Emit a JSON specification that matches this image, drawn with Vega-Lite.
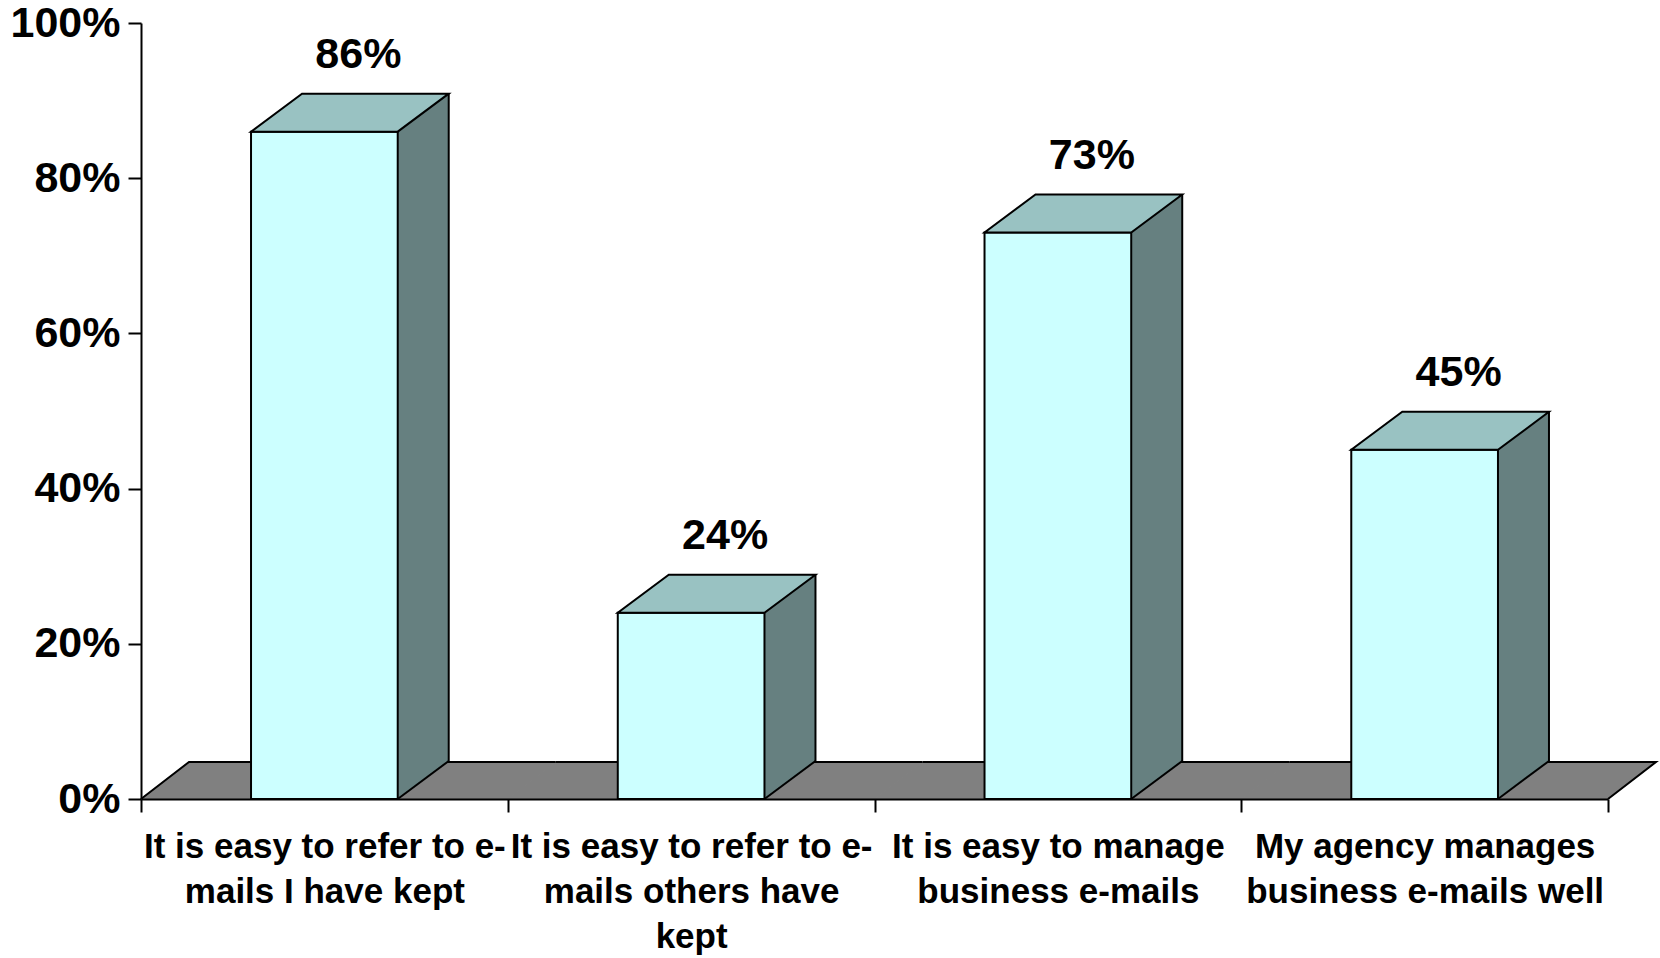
{
  "$schema": "https://vega.github.io/schema/vega-lite/v6.json",
  "width": 1467,
  "height": 776,
  "autosize": {"type": "none"},
  "padding": {"left": 141, "top": 23, "right": 52, "bottom": 159},
  "background": "white",
  "config": {"view": {"stroke": null}, "font": "Liberation Sans"},
  "data": {
    "values": [
      {"statement": "It is easy to refer to e-mails I have kept", "share": 0.86},
      {"statement": "It is easy to refer to e-mails others have kept", "share": 0.24},
      {"statement": "It is easy to manage business e-mails", "share": 0.73},
      {"statement": "My agency manages business e-mails well", "share": 0.45}
    ]
  },
  "encoding": {
    "x": {
      "field": "statement",
      "type": "nominal",
      "sort": null,
      "scale": {"paddingInner": 0, "paddingOuter": 0},
      "axis": {
        "title": null,
        "labelAngle": 0,
        "tickBand": "extent",
        "tickSize": 13,
        "tickWidth": 2,
        "domainWidth": 2,
        "domainColor": "black",
        "tickColor": "black",
        "labelFontSize": 35,
        "labelFontWeight": "bold",
        "labelColor": "black",
        "labelLimit": 0,
        "labelOverlap": false,
        "labelBaseline": "top",
        "labelLineHeight": 45,
        "labelPadding": 17,
        "zindex": 1,
        "labelExpr": "datum.value == 'It is easy to refer to e-mails I have kept' ? ['It is easy to refer to e-', 'mails I have kept'] : datum.value == 'It is easy to refer to e-mails others have kept' ? ['It is easy to refer to e-', 'mails others have', 'kept'] : datum.value == 'It is easy to manage business e-mails' ? ['It is easy to manage', 'business e-mails'] : datum.value == 'My agency manages business e-mails well' ? ['My agency manages', 'business e-mails well'] : ''"
      }
    },
    "y": {
      "field": "share",
      "type": "quantitative",
      "scale": {"domain": [0, 1], "nice": false},
      "axis": {
        "title": null,
        "values": [0, 0.2, 0.4, 0.6, 0.8, 1],
        "format": ".0%",
        "grid": false,
        "tickSize": 13,
        "tickWidth": 2,
        "domainWidth": 2,
        "domainColor": "black",
        "tickColor": "black",
        "labelFontSize": 43,
        "labelFontWeight": "bold",
        "labelColor": "black",
        "labelPadding": 8,
        "zindex": 1
      }
    }
  },
  "layer": [
    {
      "mark": {"type": "point", "shape": "M-184,0L184,0L232,-37L-136,-37Z", "size": 4, "filled": true, "fill": "#808080", "strokeWidth": 0, "opacity": 1},
      "encoding": {"y": {"datum": 0, "type": "quantitative"}}
    },
    {
      "mark": {"type": "point", "size": 4, "filled": false, "stroke": "black", "strokeWidth": 2, "opacity": 1},
      "encoding": {
        "y": {"datum": 0, "type": "quantitative"},
        "shape": {
          "field": "statement",
          "type": "nominal",
          "sort": null,
          "legend": null,
          "scale": {"range": [
            "M-183.375,0L-135.375,-37L231.375,-37",
            "M-135.375,-37L231.375,-37",
            "M-135.375,-37L231.375,-37",
            "M-135.375,-37L231.375,-37L183.375,0"
          ]}
        }
      }
    },
    {
      "mark": {"type": "bar", "width": {"band": 0.4}, "fill": "#668080", "strokeWidth": 0, "xOffset": 51, "yOffset": -38, "y2Offset": -38},
      "encoding": {"y2": {"datum": 0}}
    },
    {
      "mark": {"type": "point", "shape": "M73.35,0L73.35,-39L124.35,-39L124.35,-38Z", "size": 4, "filled": true, "fill": "#668080", "strokeWidth": 0, "opacity": 1},
      "encoding": {"y": {"datum": 0, "type": "quantitative"}}
    },
    {
      "mark": {"type": "bar", "width": {"band": 0.4}, "fill": "#CCFFFF", "stroke": "black", "strokeWidth": 2},
      "encoding": {"y2": {"datum": 0}}
    },
    {
      "mark": {"type": "point", "shape": "M-73.35,0L73.35,0L124.35,-38L-22.35,-38Z", "size": 4, "filled": true, "fill": "#99C2C2", "stroke": "black", "strokeWidth": 2, "opacity": 1}
    },
    {
      "mark": {"type": "rule", "stroke": "black", "strokeWidth": 2, "xOffset": 124.35, "yOffset": -38, "y2Offset": -38},
      "encoding": {"y2": {"datum": 0}}
    },
    {
      "mark": {"type": "point", "shape": "M73.35,0L124.35,-38", "size": 4, "filled": false, "stroke": "black", "strokeWidth": 2, "opacity": 1},
      "encoding": {"y": {"datum": 0, "type": "quantitative"}}
    },
    {
      "mark": {"type": "text", "dx": 34, "dy": -64, "baseline": "alphabetic", "align": "center", "fontSize": 43, "fontWeight": "bold", "color": "black"},
      "encoding": {"text": {"field": "share", "type": "quantitative", "format": ".0%"}}
    }
  ]
}
